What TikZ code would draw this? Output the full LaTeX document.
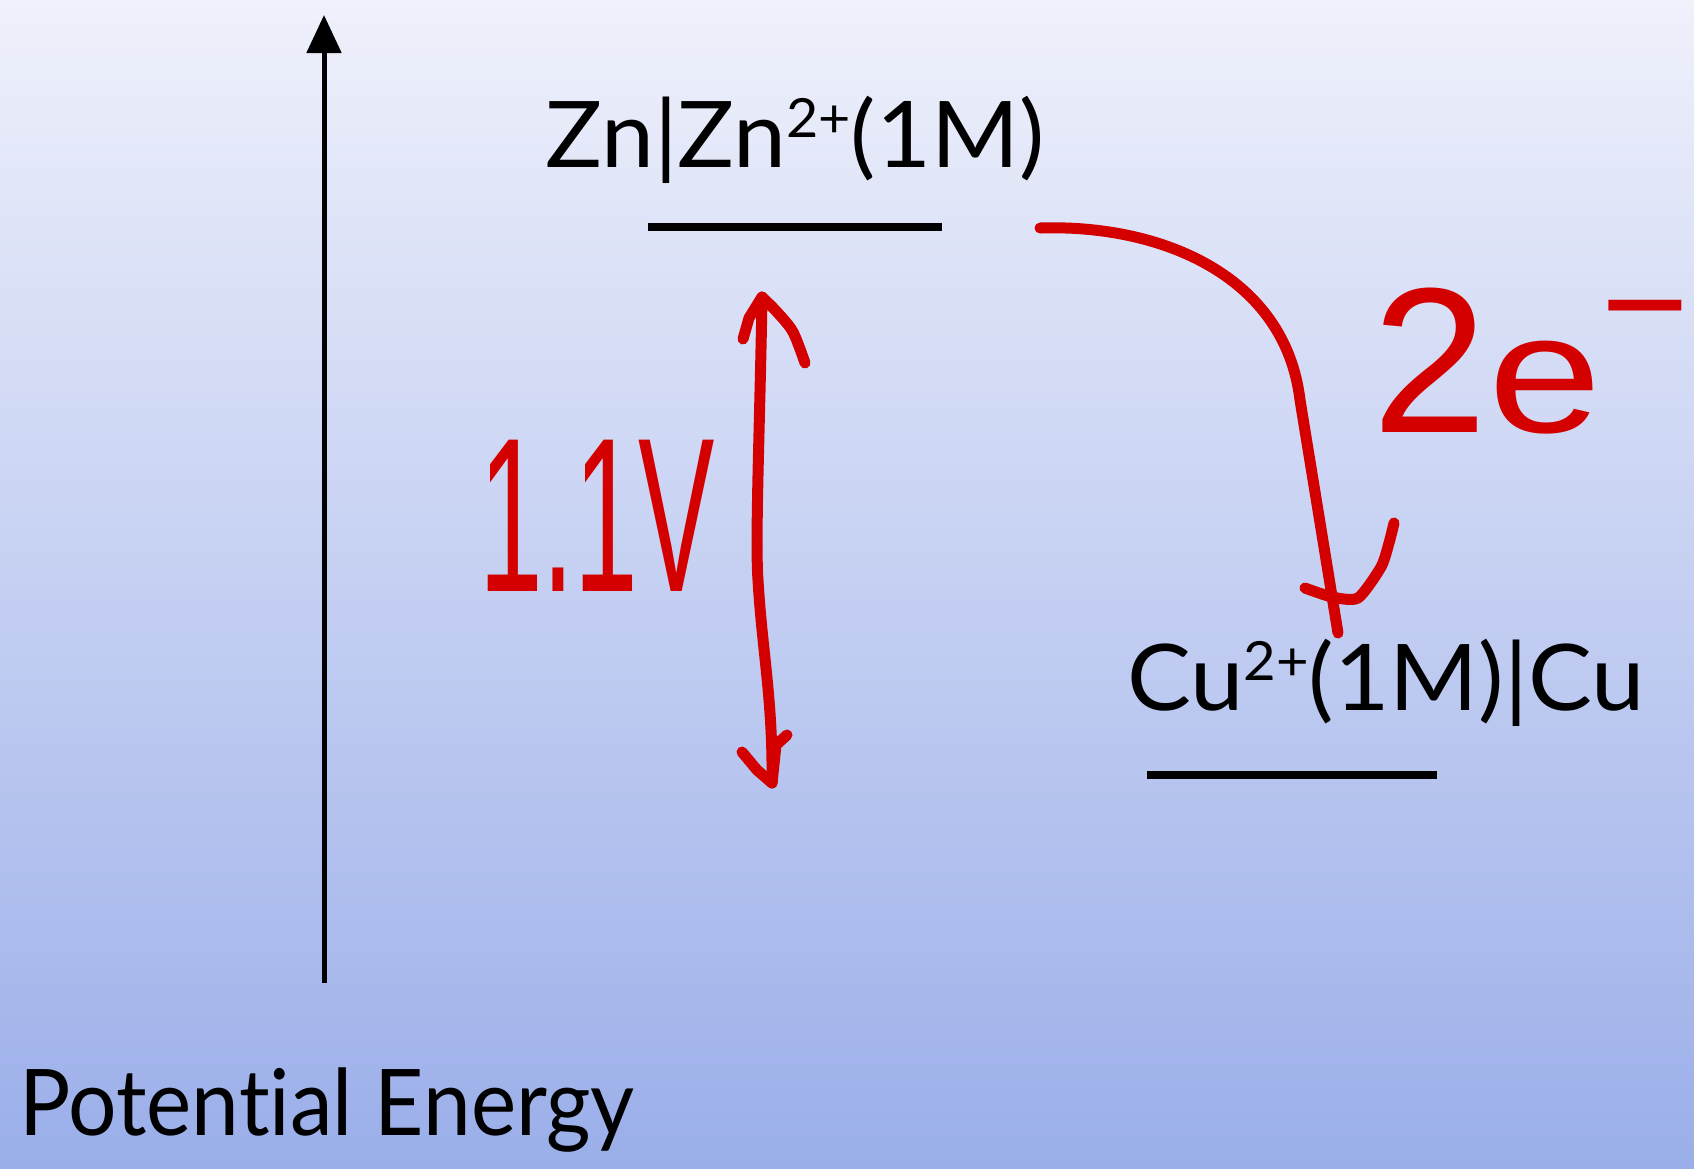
\documentclass[tikz,border=0pt]{standalone}
\usepackage{fontspec}
\setmainfont{Lato}[Ligatures=NoCommon]
\newfontfamily\handfont{Liberation Sans}
\usetikzlibrary{arrows.meta}
\definecolor{bgTop}{RGB}{239,241,251}
\definecolor{bgBottom}{RGB}{154,174,233}
\definecolor{penRed}{RGB}{212,0,0}
\newcommand{\ionCharge}[1]{\raisebox{30pt}{\fontsize{54}{54}\selectfont #1}}

\begin{document}
\begin{tikzpicture}[x=1pt,y=-1pt,
  every node/.style={inner sep=0pt},
  slide/.style={anchor=base, font=\fontsize{92}{100}\selectfont},
  pen/.style={draw=penRed, line width=11pt, line cap=round, line join=round},
  scrawl/.style={anchor=base, text=penRed}]
\useasboundingbox (0,0) rectangle (1694,1168);
\shade[top color=bgTop, bottom color=bgBottom] (0,0) rectangle (1694,1168);
% energy axis
\coordinate (axisFoot) at (324,983);
\coordinate (axisTip) at (324,15);
\draw[line width=5pt, -{Triangle[length=38pt,width=34pt]}] (axisFoot) -- (axisTip);
\node[slide] (axisLabel) at (327,1135) {\scalebox{0.93}[1]{Potential Energy}};
% electrode levels
\node[slide] (znLabel) at (795,167) {\scalebox{1.03}[1]{Zn|Zn\ionCharge{2+}(1M)}};
\coordinate (znLeft) at (648,227);
\coordinate (znRight) at (942,227);
\draw[line width=8pt] (znLeft) -- (znRight);
\node[slide] (cuLabel) at (1386,710) {\scalebox{1.04}[1]{Cu\ionCharge{2+}(1M)|Cu}};
\coordinate (cuLeft) at (1147,775);
\coordinate (cuRight) at (1437,775);
\draw[line width=8pt] (cuLeft) -- (cuRight);
% cell voltage
\coordinate (gapTop) at (762,297);
\coordinate (gapBottom) at (772,783);
\draw[pen] (gapTop) .. controls (760,420) and (755,540) .. (758,580)
  .. controls (762,650) and (773,700) .. (gapBottom);
\draw[pen] (743,339) -- (749,318) -- (gapTop);
\draw[pen] plot[smooth] coordinates {(gapTop) (777,312) (793,332) (805,363)};
\draw[pen] (742,752) -- (757,770) -- (gapBottom) -- (776,745) -- (787,735);
\node[scrawl, font=\handfont\fontsize{220}{220}\selectfont] (voltage) at (597,591) {\scalebox{0.52}[1]{1.1V}};
% electron transfer
\coordinate (flowStart) at (1040,228);
\coordinate (flowEnd) at (1338,633);
\draw[pen] (flowStart) .. controls (1160,224) and (1285,275) .. (1300,400) -- (flowEnd);
\draw[pen] plot[smooth, tension=0.4] coordinates {(1305,588) (1332,597) (1358,598) (1381,567) (1389,543) (1394,523)};
\node[scrawl, font=\handfont\fontsize{207}{207}\selectfont] (electrons) at (1531,432)
  {2{\fontsize{170}{170}\selectfont\scalebox{1.2}[1]{e}}\raisebox{77pt}{\fontsize{150}{150}\selectfont −}};
\end{tikzpicture}
\end{document}
